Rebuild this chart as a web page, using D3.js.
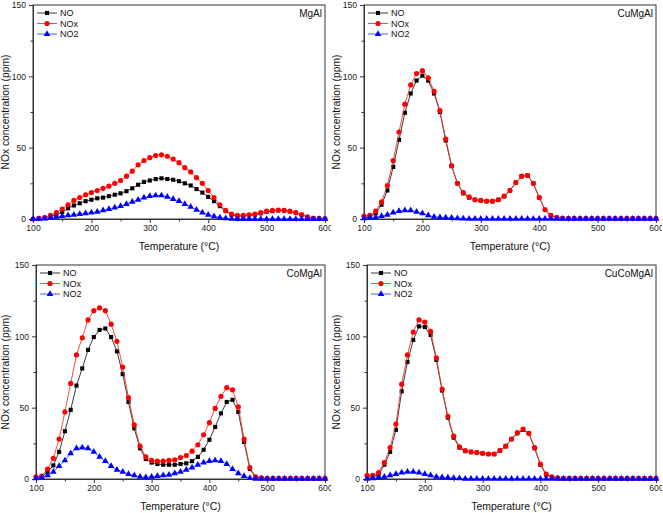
<!DOCTYPE html>
<html><head><meta charset="utf-8">
<script src="https://cdn.jsdelivr.net/npm/d3@7"></script>
<style>
body{margin:0;background:#fff;}
svg{display:block;font-family:"Liberation Sans",Arial,sans-serif;}
</style></head><body>
<svg id="c" width="663" height="513"></svg>
<script>
const temps = d3.range(100, 601, 10);
const seriesNames = ["NO", "NOx", "NO2"];
const panelNames = ["MgAl", "CuMgAl", "CoMgAl", "CuCoMgAl"];
const xTicks = [100, 200, 300, 400, 500, 600];
const yTicks = [0, 50, 100, 150];

const mgal_NO = [0,0.3,0.8,2,3,5,7.5,9.5,11,12.5,13.5,14.5,15,16,17,18,19.5,21.5,24,26,27,28,28.5,28,27.5,26.5,25,23.5,21,18.5,15.5,12.5,9,5.5,3,2,2,2.5,3,4,5,5.5,6,5.8,5.3,4.3,3,1.3,0.5,0.2,0.1];
const mgal_NOx = [0,0.5,1,2.5,4.5,7,10,13,15,17,18.5,20,21.5,23,25,27,30,33.5,38,41,43,44.5,45,44,42,39.5,36,33,29,25,20,15,10,6,3.5,2.5,2.5,3,3.5,4.5,5.5,6,6.3,6,5.5,4.5,3,1.5,0.5,0.3,0.2];
const mgal_NO2 = [0,0,0.3,0.8,1.5,2,2.5,3,3.5,4,4.5,5,6,7,8,9,10.5,12,13.5,15,16,16.5,16.5,15.5,14,12.5,10.5,8.5,6.5,4.5,3,1.8,1,0.5,0.2,0,0,0,0,0,0,0,0,0,0,0,0,0,0,0,0];

const cumgal_NO = [1,1.5,4,10,20,36.5,55.5,74.5,88,97,100.5,97,88,75,55,37,25,18,15,13.5,13,12.5,12.5,13.5,16,20,25.5,30,30.5,25,15,6.5,2.5,1,0.5,0.3,0.3,0.3,0.3,0.3,0.3,0.3,0.3,0.3,0.3,0.3,0.3,0.3,0.3,0.3,0.3];
const cumgal_NOx = [2,2.5,5.5,12,23.5,41,61,80.5,94,102,104,99,89.5,76,56,37.5,25,18.5,15.5,13.5,13,12.5,12.5,13.5,16,20,25.5,30,30.5,25,15,6.5,2.5,1,0.5,0.3,0.3,0.3,0.3,0.3,0.3,0.3,0.3,0.3,0.3,0.3,0.3,0.3,0.3,0.3,0.3];
const cumgal_NO2 = [0.5,1,1.2,2,3,4.5,5.5,6,6,5,4,2.5,1.5,1.2,1,0.8,0.5,0.3,0.2,0.2,0.2,0.2,0.2,0.2,0.2,0.2,0.2,0.2,0.2,0.2,0.2,0.2,0.2,0.2,0.2,0.2,0.2,0.2,0.2,0.2,0.2,0.2,0.2,0.2,0.2,0.2,0.2,0.2,0.2,0.2,0.2];

const comgal_NO = [1,1.5,5,9.5,19,33.5,48.5,65.5,77.5,90.5,99.5,104.5,105.5,99.5,89.5,73.5,54,35.5,21.5,14,11.5,10.5,10,10,10,10.5,11,12.5,15.5,20.5,27.5,36.5,46,54,55.5,47,26,7,1,0.5,0.3,0.3,0.3,0.3,0.3,0.3,0.3,0.3,0.3,0.3,0.3];
const comgal_NOx = [1.5,2,7,14.5,28,47,67,87,99,111.5,118,120,118,108.5,96.5,78.5,57,38,23,15.5,13,12.5,12.5,13,13.5,15,16.5,19.5,24,31,39.5,49.5,58,64,62.5,50.5,28,8,1.5,0.8,0.5,0.5,0.5,0.5,0.5,0.5,0.5,0.5,0.5,0.5,0.5];
const comgal_NO2 = [0.5,1,2.5,5,9,13,18,21.5,22,21.5,19,15.5,12.5,9,6.5,5,3.5,2.5,1.5,1.2,1.5,2,2.5,3,4,5,6.5,8,10,11.5,12.5,13,12.5,10.5,7,4,2,0.7,0.2,0.2,0.2,0.2,0.2,0.2,0.2,0.2,0.2,0.2,0.2,0.2,0.2];

const cucomgal_NO = [1,1.5,3,10,19,34.5,61.5,82,97.5,107,106.5,101,83.5,62,43,29,22,19.5,19,18.5,18,17.5,17.5,20,23,28,32,34.5,32,21.5,10,3,1,0.5,0.3,0.3,0.3,0.3,0.3,0.3,0.3,0.3,0.3,0.3,0.3,0.3,0.3,0.3,0.3,0.3,0.3];
const cucomgal_NOx = [2.5,2.5,4.5,11.5,22,38.5,66.5,87,103,111.5,110,103.5,85,63,44,30,22.5,20,19,18.5,18,17.5,17.5,20,23,28,32.5,35,32,22,10.5,3.5,1.5,0.8,0.5,0.5,0.5,0.5,0.5,0.5,0.5,0.5,0.5,0.5,0.5,0.5,0.5,0.5,0.5,0.5,0.5];
const cucomgal_NO2 = [0.2,0.5,1,1.5,2.5,3.5,4.5,5,5,4.5,3.5,2.5,1.5,1.2,1,0.7,0.5,0.2,0.2,0.2,0.2,0.2,0.2,0.2,0.2,0.2,0.2,0.2,0.2,0.2,0.2,0.2,0.2,0.2,0.2,0.2,0.2,0.2,0.2,0.2,0.2,0.2,0.2,0.2,0.2,0.2,0.2,0.2,0.2,0.2,0.2];

const panelData = [
  [mgal_NO, mgal_NOx, mgal_NO2],
  [cumgal_NO, cumgal_NOx, cumgal_NO2],
  [comgal_NO, comgal_NOx, comgal_NO2],
  [cucomgal_NO, cucomgal_NOx, cucomgal_NO2]
];

// layout (pixels)
const panels = [
  {ox:0,   oy:0,   left:33, right:325, top:5,  bottom:219},
  {ox:331, oy:0,   left:33, right:325, top:5,  bottom:219},
  {ox:0,   oy:256, left:36, right:325, top:9,  bottom:223},
  {ox:331, oy:256, left:36, right:325, top:9,  bottom:223}
];
const colors = ["#000000", "#ff0000", "#0000ff"];
const lineColors = ["#222222", "#ff3030", "#3050ff"];
const symbols = [d3.symbolSquare, d3.symbolCircle, d3.symbolTriangle];
const symSizes = [17, 21, 19];

const svg = d3.select("#c");
const defs = svg.append("defs");

panels.forEach((p, i) => {
  defs.append("clipPath").attr("id", "pc" + i)
    .append("rect").attr("x", 0).attr("y", 0).attr("width", 331).attr("height", 257);
  const g = svg.append("g").attr("transform", `translate(${p.ox},${p.oy})`)
    .attr("clip-path", `url(#pc${i})`);

  const x = d3.scaleLinear().domain([100, 600]).range([p.left, p.right]);
  const y = d3.scaleLinear().domain([0, 150]).range([p.bottom, p.top]);

  // frame
  g.append("rect").attr("x", p.left).attr("y", p.top)
    .attr("width", p.right - p.left).attr("height", p.bottom - p.top)
    .attr("fill", "none").attr("stroke", "#333").attr("stroke-width", 1);

  // y axis
  g.append("g").attr("transform", `translate(${p.left},0)`)
    .call(d3.axisLeft(y).tickValues(yTicks).tickSize(4).tickPadding(3).tickFormat(d3.format("d")));
  g.append("g").attr("transform", `translate(${p.left},0)`)
    .call(d3.axisLeft(y).tickValues([25, 75, 125]).tickSize(2.5).tickFormat(""));
  // x axis
  g.append("g").attr("transform", `translate(0,${p.bottom})`)
    .call(d3.axisBottom(x).tickValues(xTicks).tickSize(4).tickPadding(2).tickFormat(d3.format("d")));
  g.append("g").attr("transform", `translate(0,${p.bottom})`)
    .call(d3.axisBottom(x).tickValues([150, 250, 350, 450, 550]).tickSize(2.5).tickFormat(""));
  g.selectAll(".domain").attr("stroke", "#333");
  g.selectAll(".tick line").attr("stroke", "#333");
  g.selectAll(".tick text").attr("font-size", "8.6px").attr("fill", "#222")
    .attr("font-family", "Liberation Sans, Arial, sans-serif");

  // axis titles
  g.append("text").attr("transform", `translate(9,${(p.top + p.bottom) / 2}) rotate(-90)`)
    .attr("text-anchor", "middle").attr("font-size", "10.3px").attr("fill", "#111")
    .text("NOx concentration (ppm)");
  g.append("text").attr("x", (p.left + p.right) / 2).attr("y", p.bottom + 31)
    .attr("text-anchor", "middle").attr("font-size", "10.5px").attr("fill", "#111")
    .text("Temperature (°C)");

  // panel label
  g.append("text").attr("x", p.right - 3).attr("y", p.top + 12)
    .attr("text-anchor", "end").attr("font-size", "10px").attr("fill", "#111")
    .text(panelNames[i]);

  // series
  const line = d3.line().x((d, k) => x(temps[k])).y(d => y(d));
  panelData[i].forEach((vals, s) => {
    g.append("path").datum(vals).attr("d", line)
      .attr("fill", "none").attr("stroke", lineColors[s]).attr("stroke-width", 0.9);
    g.selectAll(null).data(vals).enter().append("path")
      .attr("transform", (d, k) => `translate(${x(temps[k])},${y(d)})`)
      .attr("d", d3.symbol().type(symbols[s]).size(symSizes[s]))
      .attr("fill", colors[s]);
  });

  // legend
  const lg = g.append("g").attr("transform", `translate(${p.left + 4},${p.top + 8})`);
  seriesNames.forEach((n, s) => {
    const row = lg.append("g").attr("transform", `translate(0,${s * 10.5})`);
    row.append("line").attr("x1", 0).attr("x2", 20).attr("y1", 0).attr("y2", 0)
      .attr("stroke", lineColors[s]).attr("stroke-width", 0.9);
    row.append("path").attr("transform", "translate(10,0)")
      .attr("d", d3.symbol().type(symbols[s]).size(symSizes[s])).attr("fill", colors[s]);
    row.append("text").attr("x", 23).attr("y", 3.2).attr("font-size", "9px").attr("fill", "#111").text(n);
  });
});
</script>
</body></html>
